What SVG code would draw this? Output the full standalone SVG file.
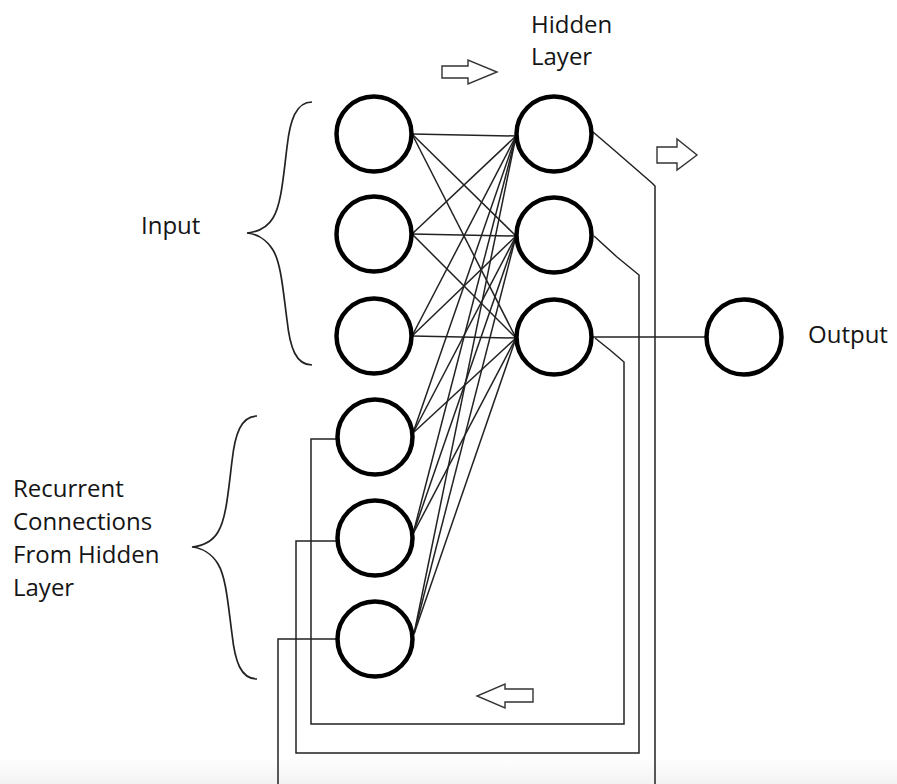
<svg xmlns="http://www.w3.org/2000/svg" width="897" height="784" viewBox="0 0 897 784">
<style>
.node{fill:#fff;stroke:#000;stroke-width:4.5}
.w{fill:none;stroke:#222;stroke-width:1.5}
.arr{fill:#fff;stroke:#333;stroke-width:1.4;stroke-linejoin:miter}
.br{fill:none;stroke:#222;stroke-width:1.7}
.t{font-family:"Open Sans","Liberation Sans",sans-serif;font-size:24px;fill:#151515}
</style>
<defs>
<path id="brace" d="M312,102 C296,102 290,120 287,147 C283,180 281,205 273,218 C267,228 257,232 247,233 C257,234 267,240 273,250 C281,263 283,290 287,320 C290,348 296,365 312,365"/>
<linearGradient id="shade" x1="0" y1="0" x2="0" y2="1">
<stop offset="0" stop-color="#ffffff"/>
<stop offset="1" stop-color="#f3f3f3"/>
</linearGradient>
</defs>
<rect width="897" height="784" fill="#fff"/>
<rect x="0" y="757" width="897" height="27" fill="url(#shade)"/>

<g id="connectors">
<g class="w">
<line x1="412" y1="134" x2="516" y2="136"/>
<line x1="412" y1="134" x2="516" y2="236"/>
<line x1="412" y1="134" x2="516" y2="338"/>
<line x1="412" y1="234" x2="516" y2="136"/>
<line x1="412" y1="234" x2="516" y2="236"/>
<line x1="412" y1="234" x2="516" y2="338"/>
<line x1="412" y1="336" x2="516" y2="136"/>
<line x1="412" y1="336" x2="516" y2="236"/>
<line x1="412" y1="336" x2="516" y2="338"/>
<line x1="413" y1="433" x2="516" y2="136"/>
<line x1="413" y1="433" x2="516" y2="236"/>
<line x1="413" y1="433" x2="516" y2="338"/>
<line x1="413" y1="534" x2="516" y2="136"/>
<line x1="413" y1="534" x2="516" y2="236"/>
<line x1="413" y1="534" x2="516" y2="338"/>
<line x1="414" y1="634" x2="516" y2="136"/>
<line x1="414" y1="634" x2="516" y2="236"/>
<line x1="414" y1="634" x2="516" y2="338"/>
<line x1="592" y1="337" x2="707" y2="337"/>
<polyline points="593,132 614,150 652,183 655,186 655,784"/>
<polyline points="594,236 617,257 639,275 639,753 296,753 296,541 337,541"/>
<polyline points="595,338 610,350 624,362 624,724 311,724 311,439 337,439"/>
<polyline points="337,639 278,639 278,784"/>
</g>
</g>

<g id="input1"><circle class="node" cx="374" cy="134" r="37.5"/></g>
<g id="input2"><circle class="node" cx="374" cy="234" r="37.5"/></g>
<g id="input3"><circle class="node" cx="374" cy="336" r="37.5"/></g>
<g id="context1"><circle class="node" cx="375" cy="437" r="37.5"/></g>
<g id="context2"><circle class="node" cx="375" cy="538" r="37.5"/></g>
<g id="context3"><circle class="node" cx="375" cy="639" r="37.5"/></g>
<g id="hidden1"><circle class="node" cx="554" cy="134" r="37.5"/></g>
<g id="hidden2"><circle class="node" cx="554" cy="235" r="37.5"/></g>
<g id="hidden3"><circle class="node" cx="554" cy="337" r="37.5"/></g>
<g id="output"><circle class="node" cx="744" cy="337" r="37.5"/></g>

<g id="arrows">
<polygon class="arr" points="442,66 468,66 468,60 497,72 468,84 468,78 442,78"/>
<polygon class="arr" points="657,147 677,147 677,139 697,155 677,170 677,163 657,163"/>
<polygon class="arr" points="533,689 505,689 505,684 477,696 505,708 505,702 533,702"/>
</g>

<g id="braces">
<use href="#brace" class="br"/>
<use href="#brace" class="br" transform="translate(-55,314)"/>
</g>

<g id="labels">
<text class="t" x="531" y="33">Hidden</text>
<text class="t" x="531" y="65">Layer</text>
<text class="t" x="141" y="234">Input</text>
<text class="t" x="808" y="343">Output</text>
<text class="t" x="13" y="497">Recurrent</text>
<text class="t" x="13" y="530">Connections</text>
<text class="t" x="13" y="563">From Hidden</text>
<text class="t" x="13" y="596">Layer</text>
</g>
</svg>
